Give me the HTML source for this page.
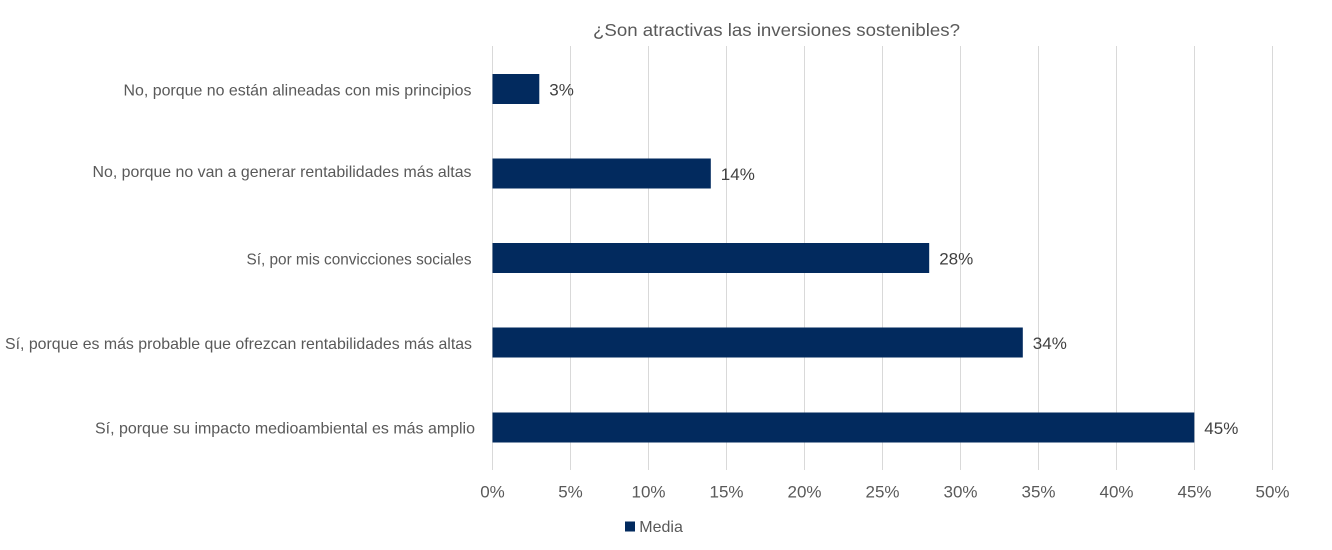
<!DOCTYPE html>
<html><head><meta charset="utf-8"><style>
html,body{margin:0;padding:0;background:#fff;}
svg{display:block;}
text{font-family:"Liberation Sans",Arial,sans-serif;}
</style></head><body>
<svg width="1332" height="550" viewBox="0 0 1332 550" xmlns="http://www.w3.org/2000/svg">
<rect width="1332" height="550" fill="#fff"/>
<text x="776.5" y="36" text-anchor="middle" font-size="17.5" fill="#595959" textLength="367" lengthAdjust="spacingAndGlyphs">¿Son atractivas las inversiones sostenibles?</text>
<g stroke="#d9d9d9" stroke-width="1">
<line x1="492.5" y1="46" x2="492.5" y2="470"/>
<line x1="570.5" y1="46" x2="570.5" y2="470"/>
<line x1="648.5" y1="46" x2="648.5" y2="470"/>
<line x1="726.5" y1="46" x2="726.5" y2="470"/>
<line x1="804.5" y1="46" x2="804.5" y2="470"/>
<line x1="882.5" y1="46" x2="882.5" y2="470"/>
<line x1="960.5" y1="46" x2="960.5" y2="470"/>
<line x1="1038.5" y1="46" x2="1038.5" y2="470"/>
<line x1="1116.5" y1="46" x2="1116.5" y2="470"/>
<line x1="1194.5" y1="46" x2="1194.5" y2="470"/>
<line x1="1272.5" y1="46" x2="1272.5" y2="470"/>
</g>
<g fill="#022a5e">
<rect x="492.5" y="74" width="46.8" height="30"/>
<rect x="492.5" y="158.5" width="218.3" height="30"/>
<rect x="492.5" y="243" width="436.7" height="30"/>
<rect x="492.5" y="327.5" width="530.3" height="30"/>
<rect x="492.5" y="412.5" width="701.8" height="30"/>
</g>
<g font-size="17" fill="#404040">
<text x="549.3" y="95.5">3%</text>
<text x="720.8" y="180">14%</text>
<text x="939.2" y="264.5">28%</text>
<text x="1032.8" y="349">34%</text>
<text x="1204.3" y="434">45%</text>
</g>
<g font-size="16" fill="#595959" text-anchor="end">
<text x="471.5" y="95.5" textLength="348" lengthAdjust="spacingAndGlyphs">No, porque no están alineadas con mis principios</text>
<text x="471.5" y="177" textLength="379" lengthAdjust="spacingAndGlyphs">No, porque no van a generar rentabilidades más altas</text>
<text x="471.5" y="264.5" textLength="225" lengthAdjust="spacingAndGlyphs">Sí, por mis convicciones sociales</text>
<text x="472" y="349" textLength="467" lengthAdjust="spacingAndGlyphs">Sí, porque es más probable que ofrezcan rentabilidades más altas</text>
<text x="475" y="433.5" textLength="380" lengthAdjust="spacingAndGlyphs">Sí, porque su impacto medioambiental es más amplio</text>
</g>
<g font-size="17" fill="#595959" text-anchor="middle">
<text x="492.5" y="497.5">0%</text>
<text x="570.5" y="497.5">5%</text>
<text x="648.5" y="497.5">10%</text>
<text x="726.5" y="497.5">15%</text>
<text x="804.5" y="497.5">20%</text>
<text x="882.5" y="497.5">25%</text>
<text x="960.5" y="497.5">30%</text>
<text x="1038.5" y="497.5">35%</text>
<text x="1116.5" y="497.5">40%</text>
<text x="1194.5" y="497.5">45%</text>
<text x="1272.5" y="497.5">50%</text>
</g>
<rect x="625" y="521.5" width="10" height="10" fill="#022a5e"/>
<text x="639.3" y="532" font-size="16" fill="#595959">Media</text>
</svg>
</body></html>
